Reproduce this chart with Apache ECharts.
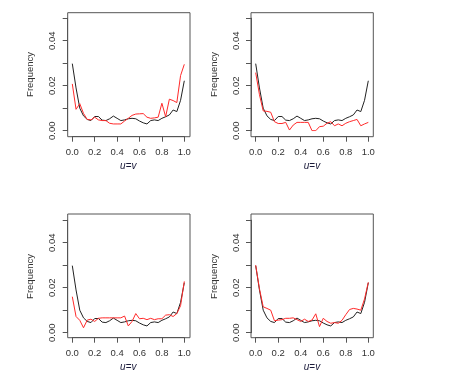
<!DOCTYPE html>
<html>
<head>
<meta charset="utf-8">
<script src="https://cdn.jsdelivr.net/npm/echarts@6/dist/echarts.min.js"></script>
<style>
html,body{margin:0;padding:0;background:#fff;}
#chart{width:449px;height:389px;}
</style>
</head>
<body>
<div id="chart"></div>
<script>
// u = v grid points (31 bins from 0 to 1)
const uGrid = Array.from({length: 31}, (_, i) => i / 30);

// Black reference curve (same in all panels)
const refFreq = [0.0298, 0.0190, 0.0100, 0.0066, 0.0050, 0.0045, 0.0063, 0.0063, 0.0047, 0.0045,
  0.0053, 0.0065, 0.0055, 0.0045, 0.0048, 0.0053, 0.0055, 0.0053, 0.0043, 0.0035,
  0.0030, 0.0045, 0.0048, 0.0045, 0.0055, 0.0062, 0.0070, 0.0092, 0.0085, 0.0135, 0.0222];

// Red curves, one per panel
const red1 = [0.0208, 0.0095, 0.0120, 0.0077, 0.0050, 0.0048, 0.0060, 0.0048, 0.0045, 0.0045,
  0.0033, 0.0030, 0.0030, 0.0030, 0.0043, 0.0055, 0.0068, 0.0074, 0.0075, 0.0076,
  0.0060, 0.0055, 0.0057, 0.0060, 0.0122, 0.0062, 0.0140, 0.0134, 0.0125, 0.0245, 0.0295];
const red2 = [0.0258, 0.0160, 0.0088, 0.0086, 0.0082, 0.0040, 0.0032, 0.0032, 0.0037, 0.0003,
  0.0025, 0.0037, 0.0037, 0.0037, 0.0037, 0.0000, 0.0000, 0.0018, 0.0020, 0.0033,
  0.0040, 0.0022, 0.0030, 0.0022, 0.0033, 0.0040, 0.0045, 0.0050, 0.0022, 0.0030, 0.0037];
const red3 = [0.0160, 0.0072, 0.0055, 0.0022, 0.0056, 0.0060, 0.0050, 0.0064, 0.0066, 0.0066,
  0.0066, 0.0066, 0.0066, 0.0066, 0.0074, 0.0030, 0.0050, 0.0085, 0.0062, 0.0064,
  0.0058, 0.0064, 0.0058, 0.0062, 0.0062, 0.0078, 0.0080, 0.0072, 0.0085, 0.0120, 0.0228];
const red4 = [0.0300, 0.0195, 0.0115, 0.0108, 0.0100, 0.0053, 0.0056, 0.0058, 0.0064, 0.0064,
  0.0066, 0.0058, 0.0050, 0.0060, 0.0050, 0.0056, 0.0084, 0.0027, 0.0064, 0.0050,
  0.0042, 0.0045, 0.0042, 0.0055, 0.0080, 0.0103, 0.0108, 0.0105, 0.0100, 0.0150, 0.0224];
const redSeries = [red1, red2, red3, red4];

const xTicks = [0, 0.2, 0.4, 0.6, 0.8, 1.0];
const yLabelTicks = [0, 0.02, 0.04];

// panel layout (inner = data area 0..1 x 0..0.05, box = R plot frame)
const panels = [
  {left: 72.3, top: 18.2, width: 112, height: 112.5, box: {left: 67.7, top: 12.7, width: 122.3, height: 124}},
  {left: 255.7, top: 18.2, width: 112.6, height: 112.5, box: {left: 251, top: 12.7, width: 122.3, height: 124}},
  {left: 72.3, top: 220.2, width: 112, height: 112.5, box: {left: 67.7, top: 214, width: 122.3, height: 123.7}},
  {left: 255.7, top: 220.2, width: 112.6, height: 112.5, box: {left: 251, top: 214, width: 122.3, height: 123.7}}
];

const FONT = 'Liberation Sans, Arial, sans-serif';
const axisCol = '#555';
const textCol = '#333';

const grid = [], xAxis = [], yAxis = [], series = [];
panels.forEach((p, k) => {
  grid.push({left: p.left, top: p.top, width: p.width, height: p.height, show: false, containLabel: false});
  xAxis.push({
    type: 'value', gridIndex: k, min: 0, max: 1, interval: 0.2, position: 'bottom',
    offset: p.box.top + p.box.height - (p.top + p.height),
    axisLine: {show: true, onZero: false, lineStyle: {color: axisCol, width: 1}},
    axisTick: {show: true, inside: false, length: 5, lineStyle: {color: axisCol, width: 1}},
    splitLine: {show: false},
    axisLabel: {color: textCol, fontFamily: FONT, fontSize: 9.5, margin: 11,
      formatter: v => (xTicks.some(t => Math.abs(t - v) < 1e-9) ? v.toFixed(1) : '')},
    name: '{i|u}{n|=}{i|v}', nameLocation: 'middle', nameGap: 25,
    nameTextStyle: {rich: {
      i: {fontStyle: 'italic', fontFamily: FONT, fontSize: 10, color: '#1a1a3a'},
      n: {fontFamily: FONT, fontSize: 10, color: '#1a1a3a'}
    }}
  });
  yAxis.push({
    type: 'value', gridIndex: k, min: 0, max: 0.05, interval: 0.01, position: 'left',
    offset: p.left - p.box.left,
    axisLine: {show: true, onZero: false, lineStyle: {color: axisCol, width: 1}},
    axisTick: {show: true, inside: false, length: 5, lineStyle: {color: axisCol, width: 1}},
    splitLine: {show: false},
    axisLabel: {color: textCol, fontFamily: FONT, fontSize: 9.5, rotate: 90, margin: 10,
      formatter: v => (yLabelTicks.some(t => Math.abs(t - v) < 1e-9) ? v.toFixed(2) : '')},
    name: 'Frequency', nameLocation: 'middle', nameGap: 32, nameRotate: 90,
    nameTextStyle: {color: textCol, fontFamily: FONT, fontSize: 9.5}
  });
  series.push({
    type: 'line', xAxisIndex: k, yAxisIndex: k, showSymbol: false, symbol: 'none',
    data: uGrid.map((u, i) => [u, refFreq[i]]),
    lineStyle: {color: '#222', width: 1}, animation: false, silent: true
  });
  series.push({
    type: 'line', xAxisIndex: k, yAxisIndex: k, showSymbol: false, symbol: 'none',
    data: uGrid.map((u, i) => [u, redSeries[k][i]]),
    lineStyle: {color: '#ff2a2a', width: 1}, animation: false, silent: true
  });
});
// R plot frames
panels.forEach((p, k) => {
  const gi = grid.length;
  grid.push({left: p.box.left, top: p.box.top, width: p.box.width, height: p.box.height,
    show: true, borderColor: axisCol, borderWidth: 1, backgroundColor: 'transparent'});
  xAxis.push({type: 'value', gridIndex: gi, show: false});
  yAxis.push({type: 'value', gridIndex: gi, show: false});
});

const chart = echarts.init(document.getElementById('chart'), null, {renderer: 'canvas'});
chart.setOption({animation: false, backgroundColor: '#fff', grid, xAxis, yAxis, series});
</script>
</body>
</html>
